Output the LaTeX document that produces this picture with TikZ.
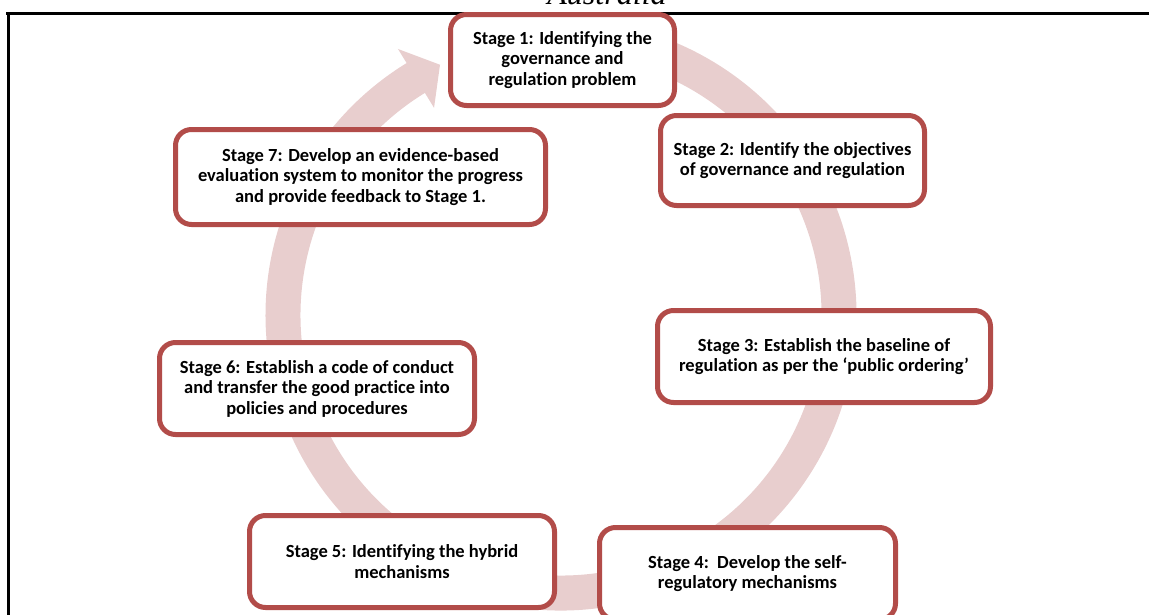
\documentclass[tikz,border=0pt]{standalone}
\usepackage{fontspec}
\setmainfont{Carlito}[Ligatures=NoCommon]
\newfontfamily\headfont{Liberation Serif}
\definecolor{stagered}{RGB}{178,76,73}
\definecolor{ringpink}{RGB}{232,206,206}
\begin{document}
\begin{tikzpicture}[x=1pt,y=1pt,
    stagebox/.style={draw=stagered,line width=5pt,fill=white,rounded corners=16pt,
      align=center,inner sep=0pt,font=\fontsize{18.5}{20.5}\selectfont\bfseries}]
  \useasboundingbox (0,0) rectangle (1149,-614);
  \node[font=\headfont\itshape\fontsize{32}{32}\selectfont,anchor=base,inner sep=0pt] (title) at (607,-4) {Australia};
  \draw[line width=2.5pt] (6,-13.5) -- (1160,-13.5);
  \draw[line width=3pt] (8,-12.5) -- (8,-620);

  \fill[ringpink,shift={(561,-315)}] (100:295.5) arc[start angle=100,end angle=-238.5,radius=295.5]
    -- (121.5:312) -- (115.8:278) -- (121.5:243) -- (121.5:260.5)
    arc[start angle=-238.5,end angle=100,radius=260.5] -- cycle;

  \node[stagebox,minimum width=224pt,minimum height=91pt] (stage1) at (562.5,-60)
    {Stage 1: Identifying the\\ governance and\\ regulation problem};
  \node[stagebox,minimum width=264pt,minimum height=90pt] (stage2) at (792.5,-160.5)
    {Stage 2: Identify the objectives\\ of governance and regulation};
  \node[stagebox,minimum width=333pt,minimum height=92pt] (stage3) at (824,-356.5)
    {Stage 3: Establish the baseline of\\ regulation as per the ‘public ordering’};
  \node[stagebox,minimum width=296pt,minimum height=92pt] (stage4) at (747.5,-573.5)
    {Stage 4:\ \ Develop the self-\\ regulatory mechanisms};
  \node[stagebox,minimum width=305pt,minimum height=92pt] (stage5) at (402,-561.5)
    {Stage 5: Identifying the hybrid\\ mechanisms};
  \node[stagebox,minimum width=315pt,minimum height=92pt] (stage6) at (317,-388.5)
    {Stage 6: Establish a code of conduct\\ and transfer the good practice into\\ policies and procedures};
  \node[stagebox,minimum width=370pt,minimum height=95pt] (stage7) at (360.5,-177)
    {Stage 7: Develop an evidence-based\\ evaluation system to monitor the progress\\ and provide feedback to Stage 1.};
\end{tikzpicture}
\end{document}
